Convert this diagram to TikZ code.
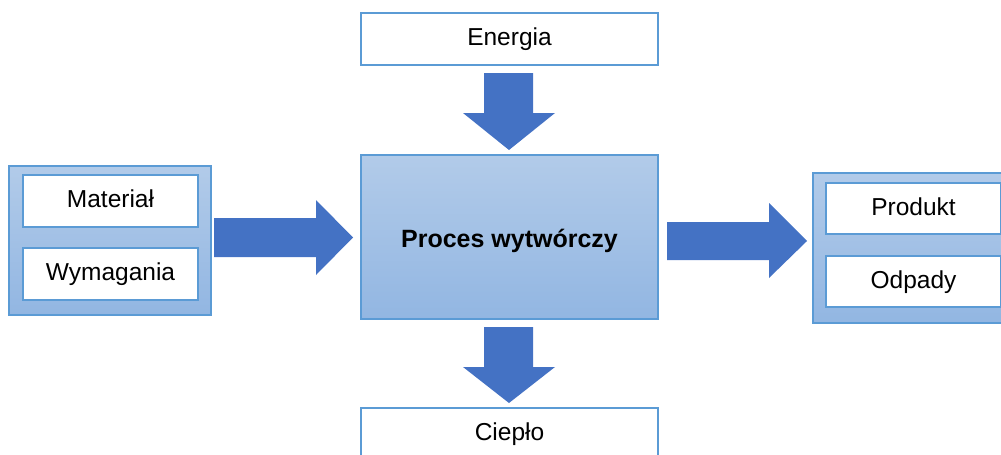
\documentclass[tikz,border=0pt]{standalone}
\usepackage{fontspec}
\setmainfont{Liberation Sans}
\definecolor{bord}{HTML}{5B9BD5}
\definecolor{arr}{HTML}{4472C4}
\definecolor{gtop}{HTML}{B2CBE9}
\definecolor{gbot}{HTML}{92B6E2}
\tikzset{
  whitebox/.style={draw=bord, line width=2pt, fill=white, inner sep=0pt,
    font=\fontsize{24.5}{28}\selectfont, text height=17.5pt, text depth=4.5pt},
  gradbox/.style={draw=bord, line width=1.2pt, top color=gtop, bottom color=gbot, inner sep=0pt},
  blockarrow/.style={fill=arr, draw=none},
}
\begin{document}
\begin{tikzpicture}[x=1pt,y=-1pt]
\useasboundingbox (0,0) rectangle (1001,455);
\clip (0,0) rectangle (1001,455);
% central process
\node[gradbox, minimum width=297pt, minimum height=164pt,
  font=\fontsize{25}{28}\selectfont\bfseries, text height=23pt, text depth=2.5pt] (proc) at (509.5,237) {Proces wytwórczy};
% energy / heat
\node[whitebox, minimum width=297pt, minimum height=52pt] (en) at (509.5,39) {Energia};
\node[whitebox, minimum width=297pt, minimum height=52pt] (heat) at (509.5,434) {Ciepło};
% left group
\node[gradbox, minimum width=202pt, minimum height=149pt] (left) at (110,240.5) {};
\node[whitebox, minimum width=175pt, minimum height=52pt] (mat) at (110.5,201) {Materiał};
\node[whitebox, minimum width=175pt, minimum height=52pt] (wym) at (110.5,274) {Wymagania};
% right group
\node[gradbox, minimum width=202pt, minimum height=150pt] (right) at (914,248) {};
\node[whitebox, minimum width=175pt, minimum height=51pt] (prod) at (913.5,208.5) {Produkt};
\node[whitebox, minimum width=175pt, minimum height=51pt] (odp) at (913.5,281.5) {Odpady};
% block arrows
\fill[blockarrow] (484,73) -- (533,73) -- (533,113) -- (555,113) -- (509,150) -- (463,113) -- (484,113) -- cycle;
\fill[blockarrow] (484,327) -- (533,327) -- (533,367) -- (555,367) -- (509,403) -- (463,367) -- (484,367) -- cycle;
\fill[blockarrow] (214,218) -- (316,218) -- (316,200) -- (353,237.5) -- (316,275) -- (316,257) -- (214,257) -- cycle;
\fill[blockarrow] (667,222) -- (769,222) -- (769,203) -- (807,241) -- (769,278) -- (769,260) -- (667,260) -- cycle;
\end{tikzpicture}
\end{document}
